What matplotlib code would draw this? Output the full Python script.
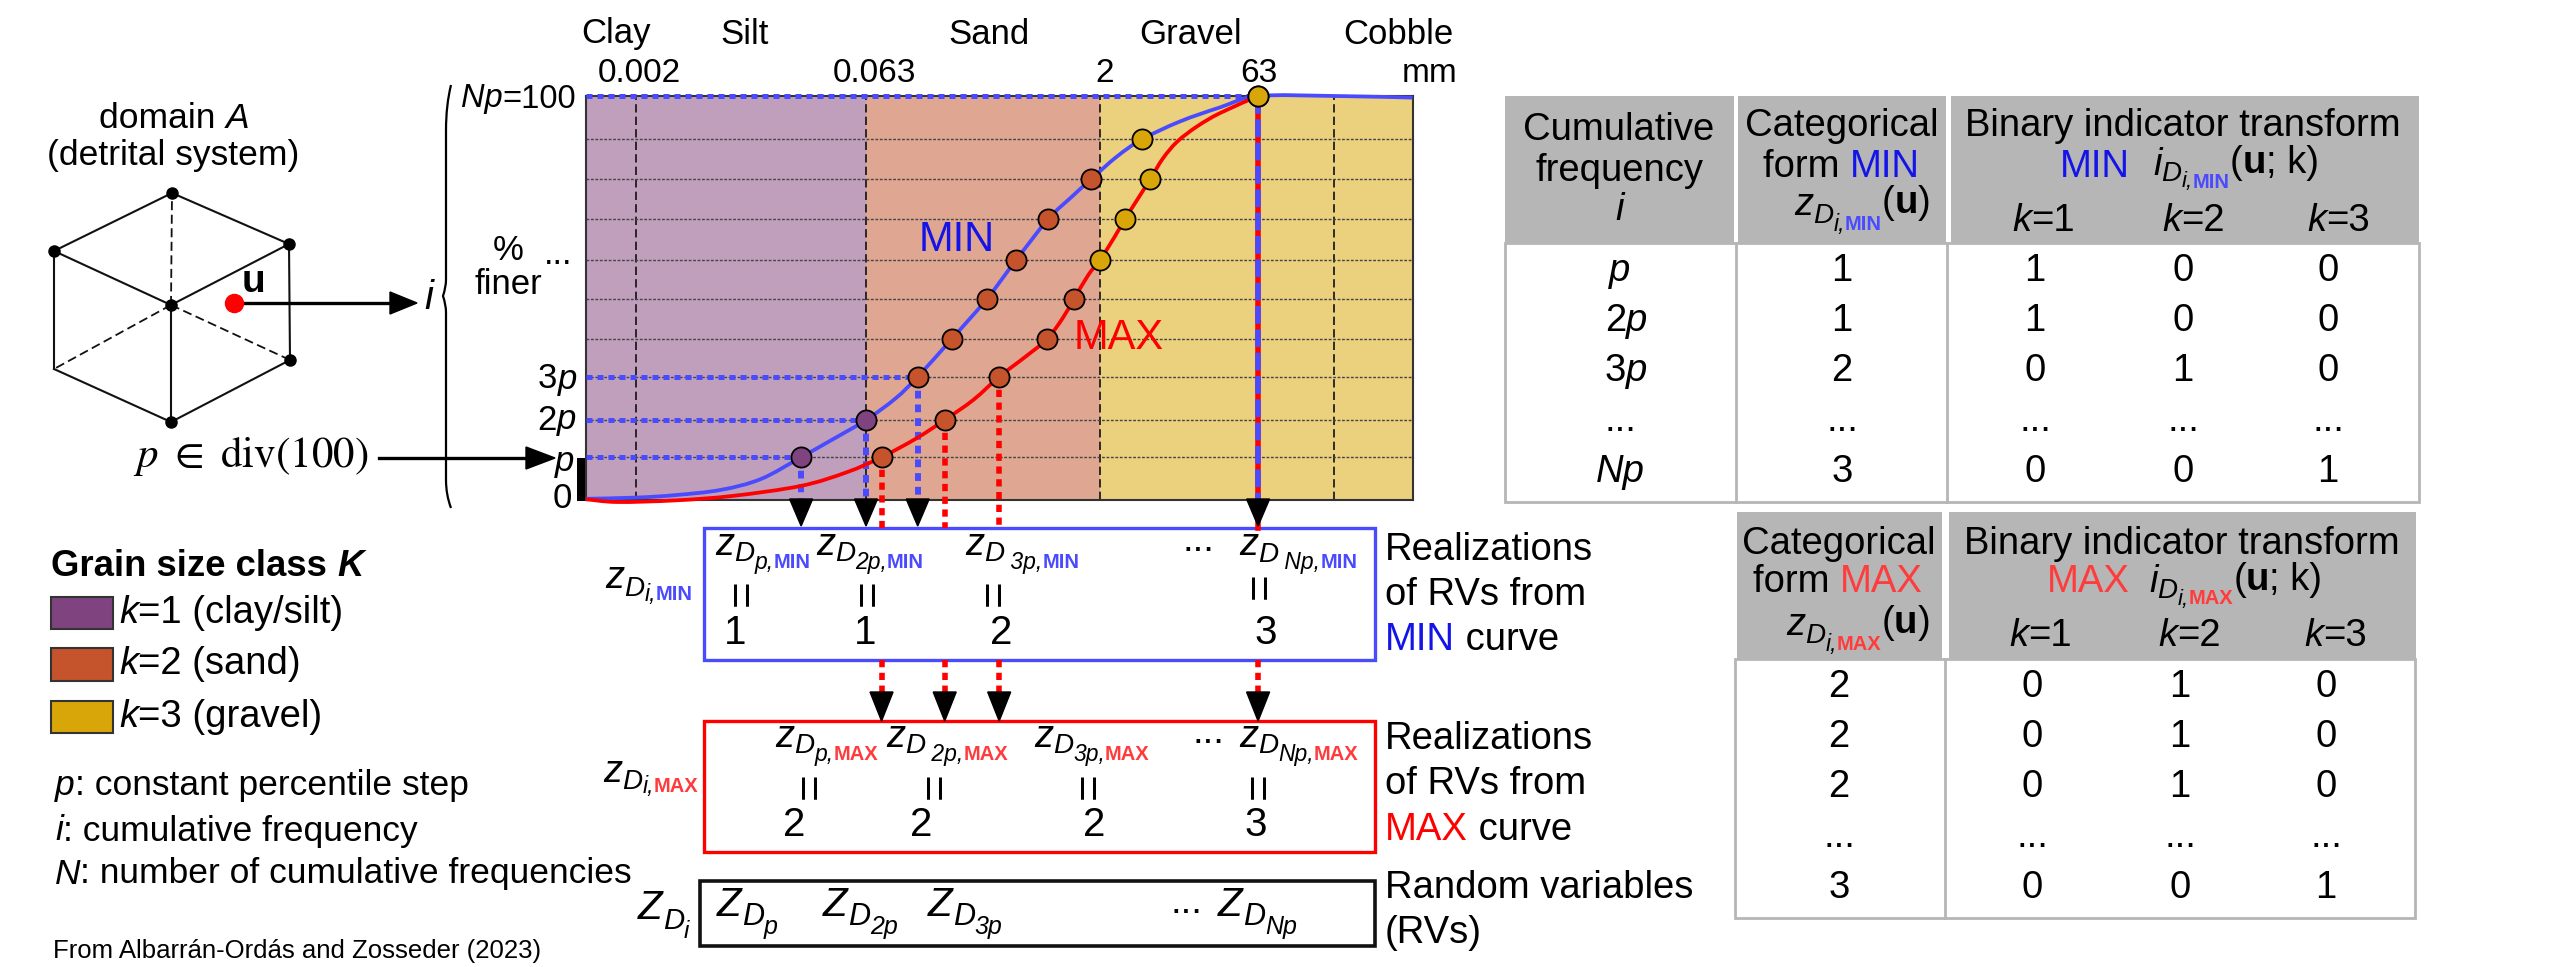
import matplotlib
matplotlib.use("Agg")
import matplotlib.pyplot as plt
from matplotlib.patches import Rectangle, PathPatch
from matplotlib.path import Path
from matplotlib.transforms import blended_transform_factory

plt.rcParams["font.family"] = ["Liberation Sans", "DejaVu Sans"]

# === Data ===
# x values are log10(mm), y values are % finer
class_edges = [-3.021, -1.217, 0.29, 2.307]
class_colors = ["#bf9fbc", "#dfa692", "#ebd07e"]
size_lines = [-2.699, -1.217, 0.29, 1.799]
grid_levels = [10.6, 19.8, 30.5, 39.8, 49.7, 59.3, 69.5, 79.4, 89.3]

min_x = [-3.022, -2.697, -2.449, -2.153, -1.894, -1.635, -1.432, -1.217, -1.025, -0.884, -0.666, -0.440,
         -0.252, -0.044, 0.104, 0.233, 0.399, 0.562, 0.806, 1.065, 1.309, 1.805, 2.304]
min_y = [0.3, 0.6, 1.2, 2.5, 5.2, 10.6, 15.0, 19.8, 25.2, 30.5, 39.8, 49.7,
         59.3, 69.5, 74.9, 79.4, 85.0, 89.3, 93.7, 97.2, 100, 100, 99.6]
max_x = [-3.022, -2.819, -2.449, -2.079, -1.635, -1.339, -1.117, -0.895, -0.710, -0.525, -0.359, -0.192, -0.052,
         0.048, 0.122, 0.215, 0.288, 0.381, 0.451, 0.540, 0.614, 0.695, 0.788, 0.917, 1.065, 1.309]
max_y = [0.2, -0.5, -0.1, 1.0, 3.5, 6.9, 10.6, 15.2, 19.8, 24.8, 30.5, 35.4, 39.8,
         44.9, 49.7, 55.7, 59.3, 64.9, 69.5, 74.9, 79.4, 84.5, 88.7, 92.5, 95.8, 100]

min_pts_x = [-1.635, -1.217, -0.884, -0.666, -0.440, -0.252, -0.044, 0.233, 0.562, 1.309]
min_pts_y = [10.6, 19.8, 30.5, 39.8, 49.7, 59.3, 69.5, 79.4, 89.3, 100]
min_pts_k = [1, 1, 2, 2, 2, 2, 2, 2, 3, 3]
max_pts_x = [-1.117, -0.710, -0.359, -0.052, 0.122, 0.288, 0.451, 0.614, 1.309]
max_pts_y = [10.6, 19.8, 30.5, 39.8, 49.7, 59.3, 69.5, 79.4, 100]
max_pts_k = [2, 2, 2, 2, 2, 3, 3, 3, 3]

row_labels = ["p", "2p", "3p", "...", "Np"]
cat_min = ["1", "1", "2", "...", "3"]
ind_min = [["1", "0", "0"], ["1", "0", "0"], ["0", "1", "0"], ["...", "...", "..."], ["0", "0", "1"]]
cat_max = ["2", "2", "2", "...", "3"]
ind_max = [["0", "1", "0"], ["0", "1", "0"], ["0", "1", "0"], ["...", "...", "..."], ["0", "0", "1"]]

k_colors = {1: "#7f4480", 2: "#c5532c", 3: "#d9a60a"}
legend_labels = ["=1 (clay/silt)", "=2 (sand)", "=3 (gravel)"]

BLUE = "#4a4aff"
RED = "#ff0000"
TXT_BLUE = "#1414e8"
TXT_RED = "#ff3b3b"
FS = 27.5
FS2 = 25

fig = plt.figure(figsize=(25.63, 9.67), dpi=100)

# overlay in pixel coordinates for the diagram parts
ov = fig.add_axes([0, 0, 1, 1], zorder=1)
ov.set_xlim(0, 2563)
ov.set_ylim(967, 0)
ov.axis("off")
rend = fig.canvas.get_renderer()


def flow(x, y, pieces):
    # pieces: (text, size, style, weight, color, dy), placed one after the other
    for s, size, style, weight, color, dy in pieces:
        t = ov.text(x, y + dy, s, fontsize=size, style=style, weight=weight, color=color,
                    ha="left", va="center")
        x += t.get_window_extent(rend).width
    return x


def txt(x, y, s, size=FS, style="normal", weight="normal", color="black", ha="center", **kw):
    return ov.text(x, y, s, fontsize=size, style=style, weight=weight, color=color, ha=ha, va="center", **kw)


def sym(x, y, sub, tag=None, tag_color=None, base="z", size=FS, dy1=9, dy2=17, s1=0.73, s2=0.6):
    # z_{D_{sub,tag}} written piece by piece, the tag has its own colour
    pieces = [(base, size, "italic", "normal", "black", 0),
              ("D", size * s1, "italic", "normal", "black", dy1),
              (sub, size * s2, "italic", "normal", "black", dy2)]
    if tag:
        pieces.append((tag, 14.5, "normal", "bold", tag_color, dy2))
    return flow(x, y, pieces)


def smooth_path(xs, ys):
    # bezier segments that pass through the read points
    verts = [(xs[0], ys[0])]
    codes = [Path.MOVETO]
    n = len(xs)
    for i in range(n - 1):
        x0, y0 = xs[max(i - 1, 0)], ys[max(i - 1, 0)]
        x1, y1 = xs[i], ys[i]
        x2, y2 = xs[i + 1], ys[i + 1]
        x3, y3 = xs[min(i + 2, n - 1)], ys[min(i + 2, n - 1)]
        verts += [(x1 + (x2 - x0) / 6, y1 + (y2 - y0) / 6), (x2 - (x3 - x1) / 6, y2 - (y3 - y1) / 6), (x2, y2)]
        codes += [Path.CURVE4] * 3
    return Path(verts, codes)


# === Hexagon ===
hex_top, hex_ru, hex_rl = (172, 193), (289, 244), (290, 360)
hex_bot, hex_ll, hex_lu = (171, 422), (54, 369), (54, 251)
hex_c = (171, 305)
for a, b in [(hex_top, hex_ru), (hex_top, hex_lu), (hex_lu, hex_ll), (hex_ll, hex_bot), (hex_bot, hex_rl),
             (hex_rl, hex_ru), (hex_c, hex_lu), (hex_c, hex_ru), (hex_c, hex_bot)]:
    ov.plot([a[0], b[0]], [a[1], b[1]], color="#111111", lw=1.5)
for b in [hex_top, hex_ll, hex_rl]:
    ov.plot([hex_c[0], b[0]], [hex_c[1], b[1]], color="#111111", lw=1.3, ls=(0, (5, 2.5)))
for p in [hex_top, hex_ru, hex_rl, hex_bot, hex_lu, hex_c]:
    ov.plot(p[0], p[1], "o", color="black", ms=8)
flow(99, 119, [("domain ", 25.5, "normal", "normal", "black", 0), ("A", 25.5, "italic", "normal", "black", 0)])
txt(173, 155, "(detrital system)", size=25.5)
txt(254, 282, "u", weight="bold", size=28)
ov.plot([243, 392], [303, 303], color="black", lw=2.4)
ov.fill([390, 417, 390], [292, 303, 314], color="black")
ov.plot(234, 302.5, "o", color="#ff0000", ms=13)
txt(429, 298, "i", style="italic", size=29)
txt(251, 456, r"$p\ \in\ \mathrm{div}(100)$", size=31, math_fontfamily="stix")
ov.plot([379, 528], [458, 458], color="black", lw=2.4)
ov.fill([526, 555, 526], [447, 458, 469], color="black")

# brace
verts = [(451, 85), (446, 105), (446, 130), (446, 280), (446, 287), (443, 296), (443, 296), (446, 305), (446, 312),
         (446, 480), (446, 495), (451, 508)]
brace_path = Path(verts, [Path.MOVETO] + [Path.CURVE3, Path.CURVE3] + [Path.LINETO] + [Path.CURVE3] * 2 +
                  [Path.LINETO] + [Path.CURVE3] * 2 + [Path.LINETO] + [Path.CURVE3] * 2)
ov.add_patch(PathPatch(brace_path, fc="none", ec="black", lw=1.6))

# === Text around the chart ===
for s, x in zip(["Clay", "Silt", "Sand", "Gravel", "Cobble"], [616, 745, 989, 1191, 1398]):
    txt(x, 34, s, size=FS2)
for s, x in zip(["0.002", "0.063", "2", "63", "mm"], [639, 874, 1105, 1259, 1430]):
    txt(x, 73, s, size=24)
flow(461, 99, [("Np", 23.5, "italic", "normal", "black", 0), ("=100", 23.5, "normal", "normal", "black", 0)])
for s, x, y in [("3", 538, 379), ("2", 537, 420)]:
    flow(x, y, [(s, FS2, "normal", "normal", "black", 0), ("p", FS2, "italic", "normal", "black", 0)])
txt(555, 461, "p", style="italic", ha="left", size=FS2)
txt(572, 499, "0", ha="right", size=FS2)
txt(572, 254, "...", ha="right", size=FS2)
txt(508, 250, "%", size=FS2)
txt(508, 285, "finer", size=FS2)
ov.add_patch(Rectangle((577, 458), 9, 43, fc="black", ec="none"))

# === Legend and notes ===
flow(51, 567, [("Grain size class ", 26.3, "normal", "bold", "black", 0), ("K", 26.3, "italic", "bold", "black", 0)])
for k, y0, y1, lab in zip([1, 2, 3], [597, 648, 701], [629, 681, 733], legend_labels):
    ov.add_patch(Rectangle((51, y0), 62, y1 - y0, fc=k_colors[k], ec="#333333", lw=1.5))
    flow(119, (y0 + y1) / 2, [("k", FS, "italic", "normal", "black", 0), (lab, FS, "normal", "normal", "black", 0)])
for key, rest, y in [("p", ": constant percentile step", 786), ("i", ": cumulative frequency", 831),
                     ("N", ": number of cumulative frequencies", 874)]:
    flow(55, y, [(key, 25.5, "italic", "normal", "black", 0), (rest, 25.5, "normal", "normal", "black", 0)])
txt(53, 951, "From Albarrán-Ordás and Zosseder (2023)", size=18.5, ha="left")

# === Boxes under the chart ===
ov.add_patch(Rectangle((704, 528), 671, 132, fc="white", ec=BLUE, lw=2.4))
ov.add_patch(Rectangle((704, 721), 671, 131, fc="white", ec=RED, lw=2.4))
ov.add_patch(Rectangle((700, 881), 675, 65, fc="white", ec="#111111", lw=2.6))

sym(715, 545, "p,", "MIN", BLUE)
sym(816, 545, "2p,", "MIN", BLUE)
sym(965, 545, " 3p,", "MIN", BLUE)
sym(1239, 545, " Np,", "MIN", BLUE, dy1=10)
txt(1198, 541, "...")
for x, y in [(744, 593), (870, 593), (996, 593), (1262, 586)]:
    txt(x, y, "=", rotation=90, size=33)
for x, v in zip([735, 865, 1001, 1266], ["1", "1", "2", "3"]):
    txt(x, 633, v, size=29)

sym(775, 737, "p,", "MAX", TXT_RED)
sym(886, 737, " 2p,", "MAX", TXT_RED)
sym(1034, 737, "3p,", "MAX", TXT_RED)
sym(1239, 737, "Np,", "MAX", TXT_RED)
txt(1208, 733, "...")
for x in [812, 937, 1091, 1261]:
    txt(x, 786, "=", rotation=90, size=33)
for x, v in zip([794, 921, 1094, 1256], ["2", "2", "2", "3"]):
    txt(x, 825, v, size=29)

for x, sub in zip([717, 823, 928, 1218], ["p", "2p", "3p", "Np"]):
    sym(x, 905, sub, base="Z", size=29, dy1=12, dy2=22, s1=0.76, s2=0.62)
txt(1186, 903, "...")

sym(605, 578, "i,", "MIN", BLUE, dy1=11, dy2=17)
sym(603, 772, "i,", "MAX", TXT_RED, dy1=10, dy2=15)
sym(638, 908, "i", base="Z", size=29, dy1=13, dy2=24)

for s, y in [("Realizations", 550), ("of RVs from", 595), ("Realizations", 739), ("of RVs from", 784),
             ("Random variables", 888), ("(RVs)", 933)]:
    txt(1385, y, s, ha="left")
flow(1385, 640, [("MIN", FS, "normal", "normal", TXT_BLUE, 0), (" curve", FS, "normal", "normal", "black", 0)])
flow(1385, 830, [("MAX", FS, "normal", "normal", RED, 0), (" curve", FS, "normal", "normal", "black", 0)])


# === Tables ===
def table(x_edges, hdr_gaps, y_top, y_mid, y_bot):
    for x0, x1 in hdr_gaps:
        ov.add_patch(Rectangle((x0, y_top), x1 - x0, y_mid - y_top, fc="#b6b6b6", ec="none"))
    ov.add_patch(Rectangle((x_edges[0], y_mid), x_edges[-1] - x_edges[0], y_bot - y_mid, fc="white",
                           ec="#b6b6b6", lw=2))
    for x in x_edges[1:-1]:
        ov.plot([x, x], [y_mid, y_bot], color="#b6b6b6", lw=2)


table([1505, 1736, 1947, 2419], [(1505, 1734), (1738, 1946), (1951, 2419)], 96, 243, 502)
table([1735, 1945, 2415], [(1737, 1942), (1949, 2416)], 512, 659, 918)

txt(1619, 130, "Cumulative")
txt(1619, 171, "frequency")
txt(1620, 210, "i", style="italic")
txt(1842, 126, "Categorical")
flow(1763, 167, [("form ", FS, "normal", "normal", "black", 0), ("MIN", FS, "normal", "normal", TXT_BLUE, 0)])
end = sym(1794, 205, "i,", "MIN", BLUE, dy1=11, dy2=20)
flow(end, 203, [("(", FS, "normal", "normal", "black", 0), ("u", FS, "normal", "bold", "black", 0),
                (")", FS, "normal", "normal", "black", 0)])
txt(2183, 126, "Binary indicator transform")
txt(2060, 167, "MIN", ha="left", color=TXT_BLUE)
end = flow(2153, 165, [("i", FS, "italic", "normal", "black", 0), ("D", 20, "italic", "normal", "black", 9),
                       ("i,", 16, "italic", "normal", "black", 17), ("MIN", 14.5, "normal", "bold", BLUE, 17)])
flow(end, 163, [("(", FS, "normal", "normal", "black", 0), ("u", FS, "normal", "bold", "black", 0),
                ("; k)", FS, "normal", "normal", "black", 0)])
for x, s in zip([2012, 2162, 2307], ["=1", "=2", "=3"]):
    flow(x, 221, [("k", FS, "italic", "normal", "black", 0), (s, FS, "normal", "normal", "black", 0)])

rows_min = [271, 321, 371, 421, 472]
for y, lab, c, ind in zip(rows_min, row_labels, cat_min, ind_min):
    if lab == "...":
        txt(1620, y, lab)
    elif lab in ("p", "Np"):
        txt(1620, y, lab, style="italic")
    else:
        flow(1605, y, [(lab[0], FS, "normal", "normal", "black", 0), (lab[1], FS, "italic", "normal", "black", 0)])
    txt(1842, y, c)
    for x, v in zip([2035, 2183, 2328], ind):
        txt(x, y, v)

txt(1839, 544, "Categorical")
flow(1753, 582, [("form ", FS, "normal", "normal", "black", 0), ("MAX", FS, "normal", "normal", TXT_RED, 0)])
end = sym(1786, 625, "i,", "MAX", TXT_RED, dy1=11, dy2=19)
flow(end, 623, [("(", FS, "normal", "normal", "black", 0), ("u", FS, "normal", "bold", "black", 0),
                (")", FS, "normal", "normal", "black", 0)])
txt(2182, 544, "Binary indicator transform")
txt(2047, 582, "MAX", ha="left", color=TXT_RED)
end = flow(2149, 582, [("i", FS, "italic", "normal", "black", 0), ("D", 20, "italic", "normal", "black", 9),
                       ("i,", 16, "italic", "normal", "black", 17), ("MAX", 14.5, "normal", "bold", TXT_RED, 17)])
flow(end, 580, [("(", FS, "normal", "normal", "black", 0), ("u", FS, "normal", "bold", "black", 0),
                ("; k)", FS, "normal", "normal", "black", 0)])
for x, s in zip([2009, 2158, 2304], ["=1", "=2", "=3"]):
    flow(x, 636, [("k", FS, "italic", "normal", "black", 0), (s, FS, "normal", "normal", "black", 0)])

rows_max = [687, 737, 787, 837, 888]
for y, c, ind in zip(rows_max, cat_max, ind_max):
    txt(1839, y, c)
    for x, v in zip([2032, 2180, 2326], ind):
        txt(x, y, v)

# === Chart ===
ch = fig.add_axes([586 / 2563, 1 - 500 / 967, 827 / 2563, 404 / 967], zorder=2)
ch.set_xlim(-3.021, 2.307)
ch.set_ylim(0, 100)
ch.set_xticks([])
ch.set_yticks([])
for sp in ch.spines.values():
    sp.set_color("#333333")
    sp.set_linewidth(1.5)

for i, c in enumerate(class_colors):
    ch.axvspan(class_edges[i], class_edges[i + 1], color=c, lw=0, zorder=0)
for x in size_lines:
    ch.axvline(x, color="#111111", lw=1.2, ls=(0, (5, 2.5)), zorder=1)
for y in grid_levels:
    ch.axhline(y, color="#444444", lw=1.0, ls=(0, (2, 1.2)), zorder=1)

# y in pixels below the chart, x still from the data
below = blended_transform_factory(ch.transData, ov.transData)

for i in [0, 1, 2, 9]:
    ch.plot([class_edges[0], min_pts_x[i]], [min_pts_y[i], min_pts_y[i]], color=BLUE, lw=3.6,
            ls=(0, (1.2, 1)), zorder=3, clip_on=False)

drop_dash = (0, (1.3, 1))
for i in [0, 1, 2]:
    ch.plot([max_pts_x[i]] * 2, [max_pts_y[i], -6.9], color=RED, lw=4, ls=drop_dash, zorder=3, clip_on=False)
    ch.plot([min_pts_x[i]] * 2, [min_pts_y[i], 0], color=BLUE, lw=4.3, ls=drop_dash, zorder=3.5, clip_on=False)
ch.plot([max_pts_x[-1]] * 2, [100, -6.9], color=RED, lw=4, zorder=3, clip_on=False)
ch.plot([min_pts_x[-1]] * 2, [100, -1], color=BLUE, lw=4, ls=(0, (3.2, 1)), zorder=3.5, clip_on=False)

ch.add_patch(PathPatch(smooth_path(min_x, min_y), fc="none", ec=BLUE, lw=2.7, zorder=4, clip_on=False))
ch.add_patch(PathPatch(smooth_path(max_x, max_y), fc="none", ec=RED, lw=2.7, zorder=4, clip_on=False))

for xs, ys, ks in [(min_pts_x, min_pts_y, min_pts_k), (max_pts_x, max_pts_y, max_pts_k)]:
    for x, y, k in zip(xs, ys, ks):
        ch.plot(x, y, "o", ms=14.5, mfc=k_colors[k], mec="black", mew=1.3, zorder=5, clip_on=False)

# arrow heads
half = 11.5 / 155.2
for x in [min_pts_x[0], min_pts_x[1], min_pts_x[2], min_pts_x[-1]]:
    ch.fill([x - half, x + half, x], [499, 499, 526], color="black", transform=below, zorder=6, clip_on=False)
for x in [max_pts_x[0], max_pts_x[1], max_pts_x[2], max_pts_x[-1]]:
    ch.plot([x, x], [660, 692], color=RED, lw=4, ls=drop_dash, transform=below, zorder=3, clip_on=False)
    ch.fill([x - half, x + half, x], [692, 692, 721], color="black", transform=below, zorder=6, clip_on=False)

ch.text(-0.875, 64.4, "MIN", fontsize=30, color=TXT_BLUE, ha="left", va="center", zorder=3)
ch.text(0.123, 40.0, "MAX", fontsize=30, color=RED, ha="left", va="center", zorder=3)
ch.set_xlim(-3.021, 2.307)
ch.set_ylim(0, 100)

fig.savefig("out.png", dpi=100)
